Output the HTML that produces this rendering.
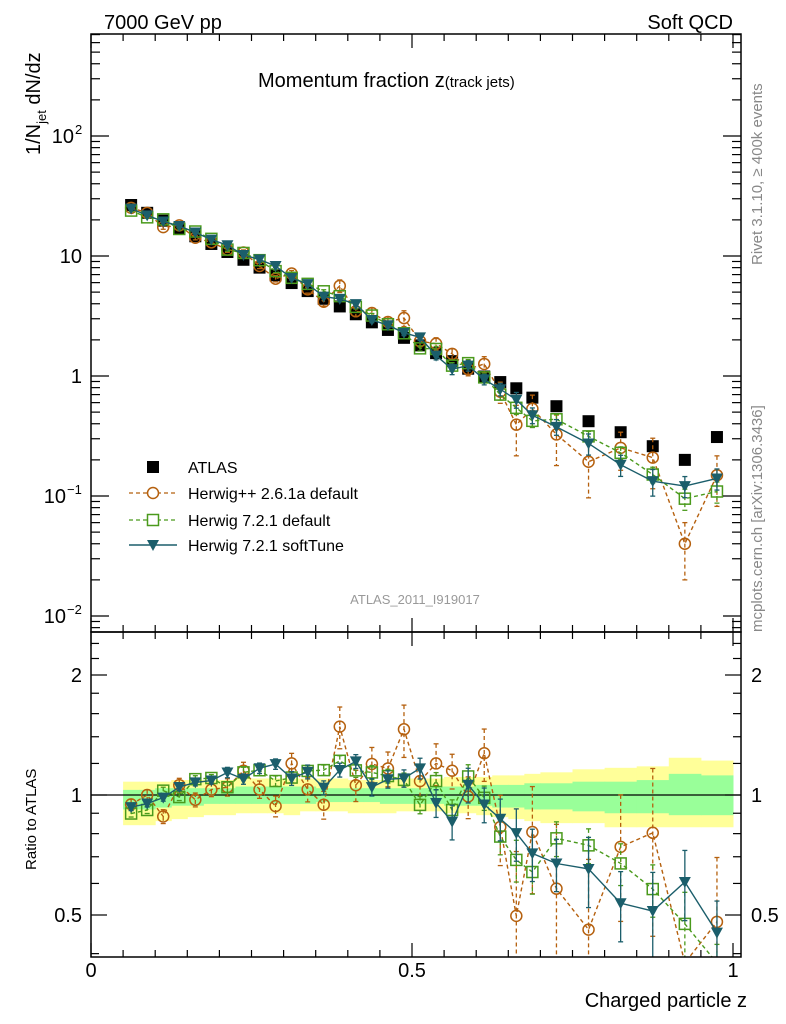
<!DOCTYPE html>
<html><head><meta charset="utf-8">
<style>
html,body{margin:0;padding:0;background:#fff;width:786px;height:1024px;overflow:hidden;}
svg{display:block;font-family:"Liberation Sans",Arial,sans-serif;}
</style></head>
<body>
<svg id="chart" width="786" height="1024" viewBox="0 0 786 1024" xmlns="http://www.w3.org/2000/svg" overflow="hidden">
<defs>
<clipPath id="clipMain"><rect x="91" y="34" width="650" height="598"/></clipPath>
<clipPath id="clipRatio"><rect x="91" y="632" width="650" height="325"/></clipPath>
</defs>
<g id="bands" clip-path="url(#clipRatio)"></g>
<g id="marks"></g>
<g id="axes"></g>
<text x="104" y="29" font-size="20">7000 GeV pp</text>
<text x="733" y="29" font-size="20" text-anchor="end">Soft QCD</text>
<text x="258" y="87" font-size="20">Momentum fraction z<tspan font-size="15">(track jets)</tspan></text>
<text transform="translate(40,155) rotate(-90)" font-size="20">1/N<tspan font-size="13" dy="6">jet</tspan><tspan dy="-6"> dN/dz</tspan></text>
<text transform="translate(36,870) rotate(-90)" font-size="15">Ratio to ATLAS</text>
<text x="747" y="1007" font-size="20" text-anchor="end">Charged particle z</text>
<text transform="translate(762,265) rotate(-90)" font-size="15" fill="#888">Rivet 3.1.10, ≥ 400k events</text>
<text transform="translate(762,632) rotate(-90)" font-size="15" fill="#888">mcplots.cern.ch [arXiv:1306.3436]</text>
<text x="415" y="604" font-size="13" fill="#999" text-anchor="middle">ATLAS_2011_I919017</text>
<g id="legend">
<g>
<rect x="147" y="461" width="12" height="12" fill="#000"/>
<text x="188" y="473" font-size="16">ATLAS</text></g>
<g>
<line x1="129" y1="493" x2="177" y2="493" stroke="#b5600e" stroke-width="1.3" stroke-dasharray="4,3"/>
<circle cx="153" cy="493" r="5.5" fill="#fff" stroke="#b5600e" stroke-width="1.5"/>
<text x="188" y="499" font-size="16">Herwig++ 2.6.1a default</text></g>
<g>
<line x1="129" y1="520" x2="177" y2="520" stroke="#4a9a1c" stroke-width="1.3" stroke-dasharray="4,3"/>
<rect x="147.5" y="514.5" width="11" height="11" fill="#fff" stroke="#4a9a1c" stroke-width="1.5"/>
<text x="188" y="526" font-size="16">Herwig 7.2.1 default</text></g>
<g>
<line x1="129" y1="545" x2="177" y2="545" stroke="#1b5e6b" stroke-width="1.5"/>
<path d="M147 540 L159 540 L153 551 Z" fill="#1b5e6b"/>
<text x="188" y="551" font-size="16">Herwig 7.2.1 softTune</text></g>
</g>
</svg>
<script>
const zCenters=[0.0625,0.0875,0.1125,0.1375,0.1625,0.1875,0.2125,0.2375,0.2625,0.2875,0.3125,0.3375,0.3625,0.3875,0.4125,0.4375,0.4625,0.4875,0.5125,0.5375,0.5625,0.5875,0.6125,0.6375,0.6625,0.6875,0.725,0.775,0.825,0.875,0.925,0.975];
const binLo=[0.05,0.075,0.1,0.125,0.15,0.175,0.2,0.225,0.25,0.275,0.3,0.325,0.35,0.375,0.4,0.425,0.45,0.475,0.5,0.525,0.55,0.575,0.6,0.625,0.65,0.675,0.7,0.75,0.8,0.85,0.9,0.95];
const binHi=[0.075,0.1,0.125,0.15,0.175,0.2,0.225,0.25,0.275,0.3,0.325,0.35,0.375,0.4,0.425,0.45,0.475,0.5,0.525,0.55,0.575,0.6,0.625,0.65,0.675,0.7,0.75,0.8,0.85,0.9,0.95,1.0];
const atlas=[26.6,22.9,19.7,17.0,14.6,12.6,10.8,9.3,8.0,6.9,5.95,5.1,4.4,3.8,3.27,2.8,2.42,2.08,1.8,1.55,1.33,1.15,0.99,0.89,0.79,0.66,0.56,0.42,0.34,0.26,0.20,0.31];
const herwigpp=[25.2,22.9,17.4,18.0,14.2,13.0,11.3,10.7,8.26,6.47,7.14,5.27,4.16,5.64,3.46,3.35,2.82,3.04,1.95,1.86,1.53,1.14,1.26,0.74,0.393,0.533,0.326,0.193,0.252,0.209,0.040,0.149];
const herwig7=[23.9,21.0,20.2,16.8,16.0,13.9,11.3,10.6,9.23,7.48,6.58,5.86,5.08,4.63,3.77,3.19,2.70,2.27,1.70,1.68,1.22,1.28,0.974,0.700,0.543,0.423,0.436,0.314,0.229,0.151,0.095,0.109];
const softTune=[24.8,21.8,19.4,17.8,15.7,13.7,12.3,10.2,9.34,8.25,6.55,5.83,4.59,4.39,3.97,2.93,2.65,2.29,2.10,1.48,1.14,1.22,0.937,0.776,0.634,0.471,0.377,0.274,0.182,0.133,0.121,0.140];
const herwigppErr=[0.03,0.03,0.04,0.04,0.04,0.04,0.05,0.05,0.05,0.06,0.06,0.07,0.08,0.12,0.09,0.1,0.1,0.15,0.1,0.12,0.1,0.12,0.15,0.2,0.45,0.3,0.45,0.5,0.35,0.45,0.5,0.45];
const herwig7Err=[0.02,0.02,0.02,0.02,0.02,0.02,0.03,0.03,0.03,0.03,0.03,0.03,0.03,0.03,0.04,0.04,0.04,0.04,0.05,0.05,0.06,0.07,0.07,0.1,0.12,0.12,0.1,0.1,0.12,0.15,0.2,0.2];
const softTuneErr=[0.02,0.02,0.02,0.02,0.02,0.02,0.03,0.03,0.03,0.03,0.04,0.04,0.04,0.04,0.04,0.05,0.05,0.05,0.06,0.08,0.1,0.1,0.1,0.12,0.15,0.15,0.15,0.2,0.2,0.25,0.2,0.2];
const yellowHi=[1.08,1.08,1.08,1.09,1.09,1.09,1.09,1.10,1.10,1.10,1.10,1.10,1.10,1.10,1.09,1.09,1.09,1.10,1.10,1.10,1.11,1.11,1.11,1.12,1.12,1.13,1.14,1.16,1.17,1.18,1.24,1.22];
const yellowLo=[0.84,0.84,0.86,0.87,0.88,0.89,0.89,0.90,0.90,0.90,0.89,0.91,0.91,0.91,0.90,0.90,0.90,0.91,0.91,0.91,0.90,0.90,0.89,0.88,0.87,0.86,0.85,0.85,0.83,0.83,0.83,0.83];
const greenHi=[1.03,1.03,1.04,1.04,1.04,1.04,1.04,1.05,1.05,1.05,1.05,1.05,1.04,1.04,1.04,1.04,1.04,1.04,1.04,1.05,1.05,1.05,1.06,1.06,1.06,1.07,1.07,1.08,1.08,1.09,1.13,1.12];
const greenLo=[0.92,0.92,0.93,0.94,0.94,0.95,0.95,0.95,0.95,0.95,0.95,0.95,0.96,0.96,0.96,0.96,0.95,0.95,0.95,0.95,0.94,0.94,0.94,0.93,0.93,0.92,0.92,0.91,0.90,0.90,0.89,0.89];
const mainYTickBase=["10","10","1","10","10"];
const mainYTickExp=["−2","−1","","","2"];
const ratioTickLabels=["0.5","1","2"];
const xTickLabels=["0","0.5","1"];

const NS="http://www.w3.org/2000/svg";
const X=z=>91+z*642;
const clamp=(y,a,b)=>Math.min(b,Math.max(a,y));
const Y=v=>clamp(376-120*Math.log10(v),28,640);
const R=r=>clamp(795-120*Math.log2(r),626,963);
function mk(tag,attrs,parent){const e=document.createElementNS(NS,tag);for(const k in attrs)e.setAttribute(k,attrs[k]);parent.appendChild(e);return e;}
const bands=document.getElementById('bands'),marks=document.getElementById('marks'),axes=document.getElementById('axes');

for(let i=0;i<zCenters.length;i++){
  const y=mk('rect',{x:X(binLo[i]),y:R(yellowHi[i]),width:X(binHi[i])-X(binLo[i])+0.5,height:R(yellowLo[i])-R(yellowHi[i]),fill:'#ffff99'},bands);
  
  
}
for(let i=0;i<zCenters.length;i++){
  const g=mk('rect',{x:X(binLo[i]),y:R(greenHi[i]),width:X(binHi[i])-X(binLo[i])+0.5,height:R(greenLo[i])-R(greenHi[i]),fill:'#99ff99'},bands);
  
  
}
mk('line',{x1:91,x2:741,y1:R(1),y2:R(1),stroke:'#000','stroke-width':1.3},bands);

function marker(kind,cx,cy,color,parent){
  if(kind==='circle') return mk('circle',{cx:cx,cy:cy,r:5.5,fill:'none',stroke:color,'stroke-width':1.5},parent);
  if(kind==='square') return mk('rect',{x:cx-5.5,y:cy-5.5,width:11,height:11,fill:'none',stroke:color,'stroke-width':1.5},parent);
  return mk('path',{d:`M${cx-6} ${cy-5} L${cx+6} ${cy-5} L${cx} ${cy+6} Z`,fill:color},parent);
}
function series(vals,errs,color,dash,kind,name){
  for(const panel of ['main','ratio']){
    const g=mk('g',{'clip-path':panel==='main'?'url(#clipMain)':'url(#clipRatio)'},marks);
    
    
    const val=i=>panel==='main'?vals[i]:vals[i]/atlas[i];
    const ym=panel==='main'?Y:R;
    const pts=zCenters.map((z,i)=>X(z)+','+ym(val(i))).join(' ');
    const pl=mk('polyline',{points:pts,fill:'none',stroke:color,'stroke-width':1.4},g);
    if(dash)pl.setAttribute('stroke-dasharray',dash);
    for(let i=0;i<zCenters.length;i++){
      const v=val(i),e=errs[i];
      const x=X(zCenters[i]),y1=ym(v*(1+e)),y2=ym(Math.max(v*(1-e),1e-6));
      const eb=mk('line',{x1:x,x2:x,y1:y1,y2:y2,stroke:color,'stroke-width':1.3},g);
      if(dash)eb.setAttribute('stroke-dasharray',dash);
      mk('line',{x1:x-2.5,x2:x+2.5,y1:y1,y2:y1,stroke:color,'stroke-width':1.3},g);
      mk('line',{x1:x-2.5,x2:x+2.5,y1:y2,y2:y2,stroke:color,'stroke-width':1.3},g);
      const m=marker(kind,x,ym(v),color,g);
      
      
    }
  }
}
const ag=mk('g',{'clip-path':'url(#clipMain)'},marks);


for(let i=0;i<zCenters.length;i++){
  const s=mk('rect',{x:X(zCenters[i])-6,y:Y(atlas[i])-6,width:12,height:12,fill:'#000'},ag);
  
  
}
series(herwigpp,herwigppErr,'#b5600e','4,3','circle','herwigpp');
series(herwig7,herwig7Err,'#4a9a1c','4,3','square','herwig7-default');
series(softTune,softTuneErr,'#1b5e6b',null,'tri','herwig7-softtune');

for(const f of [[34,632],[632,957]]){
  const r=mk('rect',{x:91,y:f[0],width:650,height:f[1]-f[0],fill:'none',stroke:'#000','stroke-width':1.5},axes);
  
  
}
function tick(x1,y1,x2,y2){mk('line',{x1:x1,y1:y1,x2:x2,y2:y2,stroke:'#000','stroke-width':1.2},axes);}
for(let k=0;k<=20;k++){
  const z=k*0.05,x=X(z),major=(k%10===0),L=major?14:7;
  for(const f of [[34,632],[632,957]]){tick(x,f[0],x,f[0]+L);tick(x,f[1],x,f[1]-L);}
}
xTickLabels.forEach((t,i)=>{
  const el=mk('text',{x:X(i*0.5),y:977,'font-size':20,'text-anchor':'middle'},axes);
  el.textContent=t;
  
  
});
for(let d=-3;d<=2;d++){
  for(let m=1;m<=9;m++){
    const v=m*Math.pow(10,d),y=376-120*Math.log10(v);
    if(y<34||y>632)continue;
    const L=m===1?18:9;
    tick(91,y,91+L,y);tick(741,y,741-L,y);
  }
}
mainYTickBase.forEach((t,i)=>{
  const y=Y(Math.pow(10,i-2))+7;
  const exp=mainYTickExp[i];
  const el=mk('text',{x:exp?(exp.length>1?66:74):82,y:y,'font-size':20,'text-anchor':'end'},axes);
  el.textContent=t;
  
  
  if(exp){
    const s=mk('text',{x:exp.length>1?67:75,y:y-9,'font-size':13},axes);
    s.textContent=exp;
    
    
  }
});
[0.4,0.6,0.7,0.8,0.9,1.2,1.4,1.6,1.8,2.2,2.4].forEach(r=>{const y=R(r);tick(91,y,99,y);tick(741,y,733,y);});
[0.5,1,2].forEach(r=>{const y=R(r);tick(91,y,107,y);tick(741,y,725,y);});
ratioTickLabels.forEach((t,i)=>{
  const r=[0.5,1,2][i];
  const a=mk('text',{x:82,y:R(r)+7,'font-size':20,'text-anchor':'end'},axes);
  a.textContent=t;
  
  
  const b=mk('text',{x:751,y:R(r)+7,'font-size':20},axes);
  b.textContent=t;
  
  
});
</script>
</body></html>
